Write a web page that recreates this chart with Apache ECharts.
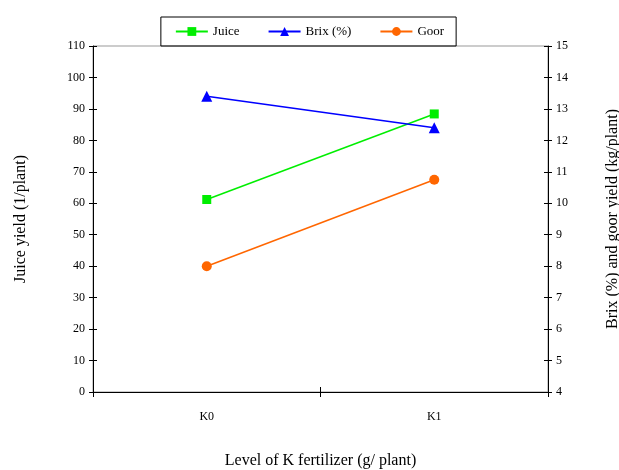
<!DOCTYPE html>
<html><head><meta charset="utf-8">
<script src="https://cdn.jsdelivr.net/npm/echarts@6/dist/echarts.min.js"></script>
<style>html,body{margin:0;padding:0;background:#fff}#c{width:619px;height:470px}</style>
</head><body><div id="c"></div>
<script>
const categories = ['K0', 'K1'];
const juice = [61.2, 88.4];
const brix = [13.4, 12.4];
const goor = [8.0, 10.75];
const leftTicks = [0, 110, 10];
const rightTicks = [4, 15, 1];

const font = 'Liberation Serif';
const chart = echarts.init(document.getElementById('c'));
const baseY = {
  type: 'value', axisLine: {show: true, lineStyle: {color: '#000', width: 1}},
  splitLine: {show: false}
};
chart.setOption({
  animation: false,
  textStyle: {fontFamily: font},
  grid: {left: 93, right: 71, top: 46, bottom: 78, containLabel: false, outerBoundsMode: 'none',
         show: true, borderColor: '#999', borderWidth: 1},
  legend: {
    top: 17, left: 'center', data: ['Juice', 'Brix (%)', 'Goor'],
    borderColor: '#000', borderWidth: 1, padding: [8, 12, 8, 14], itemGap: 28,
    itemWidth: 32, itemHeight: 11,
    textStyle: {fontFamily: font, fontSize: 13, color: '#000'}
  },
  xAxis: [{
    type: 'category', data: categories, boundaryGap: true,
    axisLine: {lineStyle: {color: '#000'}},
    axisTick: {show: true, length: 5, lineStyle: {color: '#000'}},
    axisLabel: {margin: 19, fontFamily: font, fontSize: 12, color: '#000'},
    name: 'Level of K fertilizer (g/ plant)', nameLocation: 'middle', nameGap: 61,
    nameTextStyle: {fontFamily: font, fontSize: 16, color: '#000'}
  }, {
    type: 'category', data: categories, position: 'bottom', boundaryGap: true,
    axisLine: {show: false}, axisTick: {show: true, inside: true, length: 5, lineStyle: {color: '#000'}},
    axisLabel: {show: false}
  }],
  yAxis: [Object.assign({}, baseY, {
    min: leftTicks[0], max: leftTicks[1], interval: leftTicks[2], position: 'left',
    axisTick: {show: true, length: 4, lineStyle: {color: '#000'}},
    axisLabel: {fontFamily: font, fontSize: 12, color: '#000', margin: 8},
    name: 'Juice yield (1/plant)', nameLocation: 'middle', nameGap: 64, nameRotate: 90,
    nameTextStyle: {fontFamily: font, fontSize: 16, color: '#000'}
  }), Object.assign({}, baseY, {
    min: rightTicks[0], max: rightTicks[1], interval: rightTicks[2], position: 'right',
    axisTick: {show: true, length: 4, lineStyle: {color: '#000'}},
    axisLabel: {fontFamily: font, fontSize: 12, color: '#000', margin: 8},
    name: 'Brix (%) and goor yield (kg/plant)', nameLocation: 'middle', nameGap: 57, nameRotate: 90,
    nameTextStyle: {fontFamily: font, fontSize: 16, color: '#000'}
  }), Object.assign({}, baseY, {
    min: leftTicks[0], max: leftTicks[1], interval: leftTicks[2], position: 'left',
    axisLine: {show: false}, axisTick: {show: true, inside: true, length: 4, lineStyle: {color: '#000'}},
    axisLabel: {show: false}
  }), Object.assign({}, baseY, {
    min: rightTicks[0], max: rightTicks[1], interval: rightTicks[2], position: 'right',
    axisLine: {show: false}, axisTick: {show: true, inside: true, length: 4, lineStyle: {color: '#000'}},
    axisLabel: {show: false}
  })],
  series: [{
    name: 'Juice', type: 'line', data: juice, yAxisIndex: 0,
    symbol: 'rect', symbolSize: 9, color: '#00ee00', lineStyle: {width: 1.5},
    itemStyle: {color: '#00ee00'}
  }, {
    name: 'Brix (%)', type: 'line', data: brix, yAxisIndex: 1,
    symbol: 'triangle', symbolSize: 11, color: '#0000ff', lineStyle: {width: 1.5},
    itemStyle: {color: '#0000ff'}
  }, {
    name: 'Goor', type: 'line', data: goor, yAxisIndex: 1,
    symbol: 'circle', symbolSize: 10, color: '#ff6600', lineStyle: {width: 1.5},
    itemStyle: {color: '#ff6600'}
  }]
});
</script></body></html>
